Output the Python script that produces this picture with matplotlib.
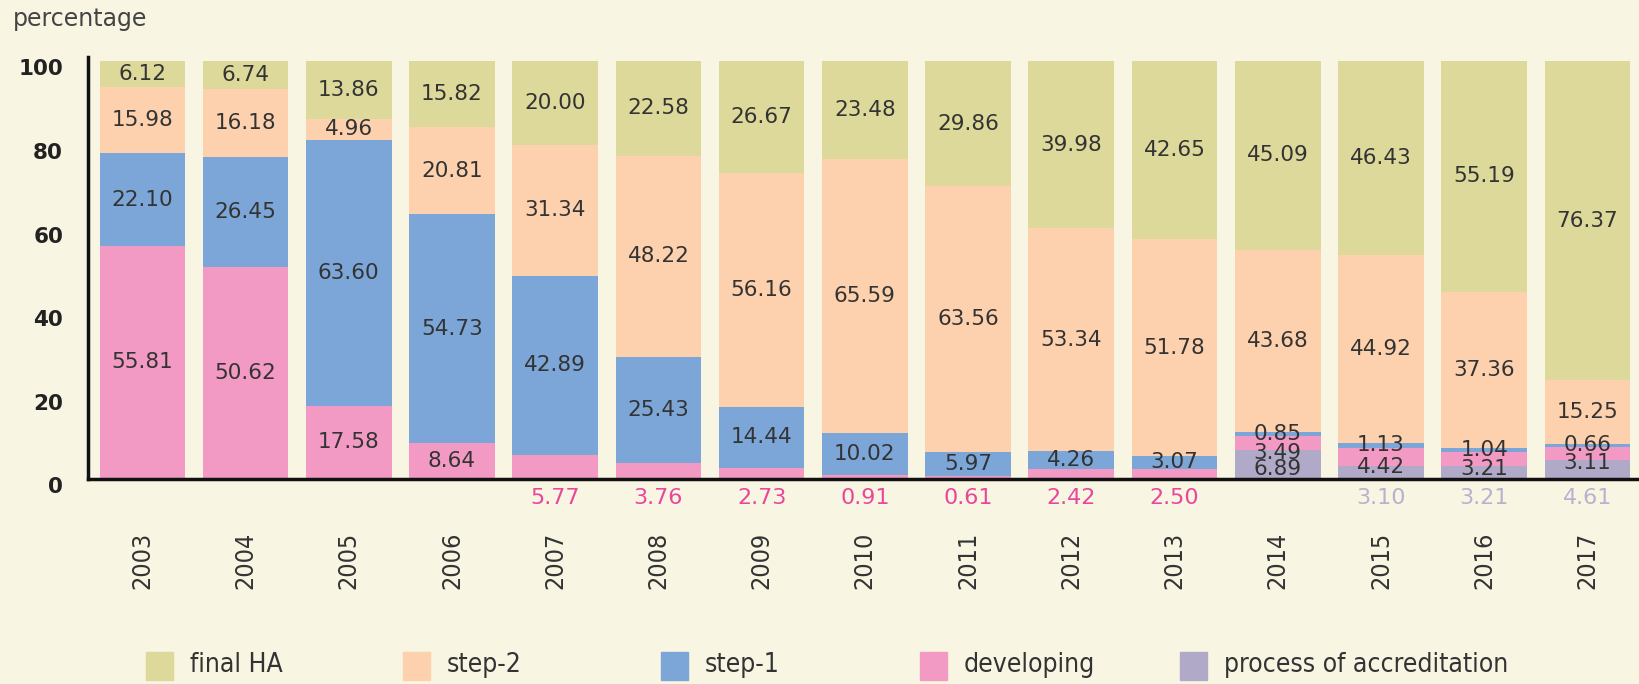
import numpy as np
import matplotlib
matplotlib.use('Agg')
import matplotlib.pyplot as plt
from matplotlib.patches import Rectangle
from matplotlib import font_manager

years = ['2003', '2004', '2005', '2006', '2007', '2008', '2009', '2010',
         '2011', '2012', '2013', '2014', '2015', '2016', '2017']
final_ha = [6.12, 6.74, 13.86, 15.82, 20.00, 22.58, 26.67, 23.48, 29.86,
            39.98, 42.65, 45.09, 46.43, 55.19, 76.37]
step2 = [15.98, 16.18, 4.96, 20.81, 31.34, 48.22, 56.16, 65.59, 63.56,
         53.34, 51.78, 43.68, 44.92, 37.36, 15.25]
step1 = [22.10, 26.45, 63.60, 54.73, 42.89, 25.43, 14.44, 10.02, 5.97,
         4.26, 3.07, 0.85, 1.13, 1.04, 0.66]
developing = [55.81, 50.62, 17.58, 8.64, 5.77, 3.76, 2.73, 0.91, 0.61,
              2.42, 2.50, 3.49, 4.42, 3.21, 3.11]
accreditation = [0, 0, 0, 0, 0, 0, 0, 0, 0, 0, 0, 6.89, 3.10, 3.21, 4.61]
yticks = [0, 20, 40, 60, 80, 100]

# which small values get written under the axis instead of inside the bar
dev_below = [False]*4 + [True]*7 + [False]*4
acc_below = [False]*12 + [True]*3

bg = '#f8f5e3'
c_final, c_step2, c_step1, c_dev, c_acc = '#dcd99a', '#fdd1ae', '#7ca6d8', '#f29ac4', '#b0a9c8'
txt = '#333333'

# use a condensed face for years/legend when one is installed
cond = font_manager.FontProperties(family='DejaVu Sans', stretch='condensed')
if 'Condensed' in font_manager.findfont(cond):
    narrow = dict(family='DejaVu Sans', fontstretch='condensed')
    year_fs, leg_fs = 18, 19
else:
    narrow = dict(family='DejaVu Sans')
    year_fs, leg_fs = 16.5, 16

fig = plt.figure(figsize=(16.4, 6.84), dpi=100, facecolor=bg)
ax = fig.add_axes([0.0537, 0.2997, 0.9463, 0.617])
ax.set_facecolor(bg)

x = np.arange(len(years))
w = 0.83
series = [(accreditation, c_acc), (developing, c_dev), (step1, c_step1),
          (step2, c_step2), (final_ha, c_final)]
bottom = np.zeros(len(years))
bottoms = []
for vals, col in series:
    vals = np.array(vals)
    ax.bar(x, vals, w, bottom=bottom, color=col, linewidth=0)
    bottoms.append(bottom.copy())
    bottom = bottom + vals

fs = 15.5
# in-bar value labels; the thin slices near the axis sit a little low
for k, (vals, col) in enumerate(series):
    for i, v in enumerate(vals):
        if v == 0:
            continue
        if k == 0 and acc_below[i]:
            continue
        if k == 1 and dev_below[i]:
            continue
        nudge = 0
        if k == 0:
            nudge = -3
        elif k == 1 and accreditation[i] > 0:
            nudge = -7
        ax.annotate(f'{v:.2f}', (x[i], bottoms[k][i] + v / 2), xytext=(0, nudge),
                    textcoords='offset points', ha='center', va='center',
                    fontsize=fs, color=txt)

# values under the axis
for i in range(len(years)):
    if dev_below[i]:
        ax.annotate(f'{developing[i]:.2f}', (x[i], 0), xytext=(0, -14),
                    textcoords='offset points', ha='center', va='center',
                    fontsize=16, color='#e8479a', annotation_clip=False)
    if acc_below[i]:
        ax.annotate(f'{accreditation[i]:.2f}', (x[i], 0), xytext=(0, -14),
                    textcoords='offset points', ha='center', va='center',
                    fontsize=16, color='#b8b1cf', annotation_clip=False)

ax.set_xlim(-0.526, 14.51)
ax.set_ylim(0, 101)
ax.set_yticks(yticks)
ax.tick_params(axis='y', labelleft=False, length=0)
# y labels drawn a bit below their gridline positions
for v in yticks:
    ax.annotate(str(v), (0, v), xycoords=('axes fraction', 'data'),
                xytext=(-18, -6), textcoords='offset points', ha='right',
                va='center', fontsize=15.5, fontweight='bold', color='#222222',
                annotation_clip=False)
ax.set_xticks(x)
ax.set_xticklabels(years, rotation=90, fontsize=year_fs, color=txt, **narrow)
ax.tick_params(axis='x', length=0, pad=38)

for s in ['top', 'right']:
    ax.spines[s].set_visible(False)
for s in ['left', 'bottom']:
    ax.spines[s].set_linewidth(2.5)
    ax.spines[s].set_color('#111111')

fig.text(13/1640, 1 - 19/684, 'percentage', fontsize=17, color='#444444',
         ha='left', va='center')

# legend row
labels = ['final HA', 'step-2', 'step-1', 'developing', 'process of accreditation']
colors = [c_final, c_step2, c_step1, c_dev, c_acc]
lx = [146, 403, 661, 920, 1180]
for px, lab, col in zip(lx, labels, colors):
    fig.patches.append(Rectangle((px/1640, 1 - 680/684), 27/1640, 28/684,
                                 transform=fig.transFigure, color=col))
    fig.text((px + 44)/1640, 1 - 665/684, lab, fontsize=leg_fs, color='#333333',
             ha='left', va='center', **narrow)

fig.savefig('out.png', dpi=100, facecolor=bg)
